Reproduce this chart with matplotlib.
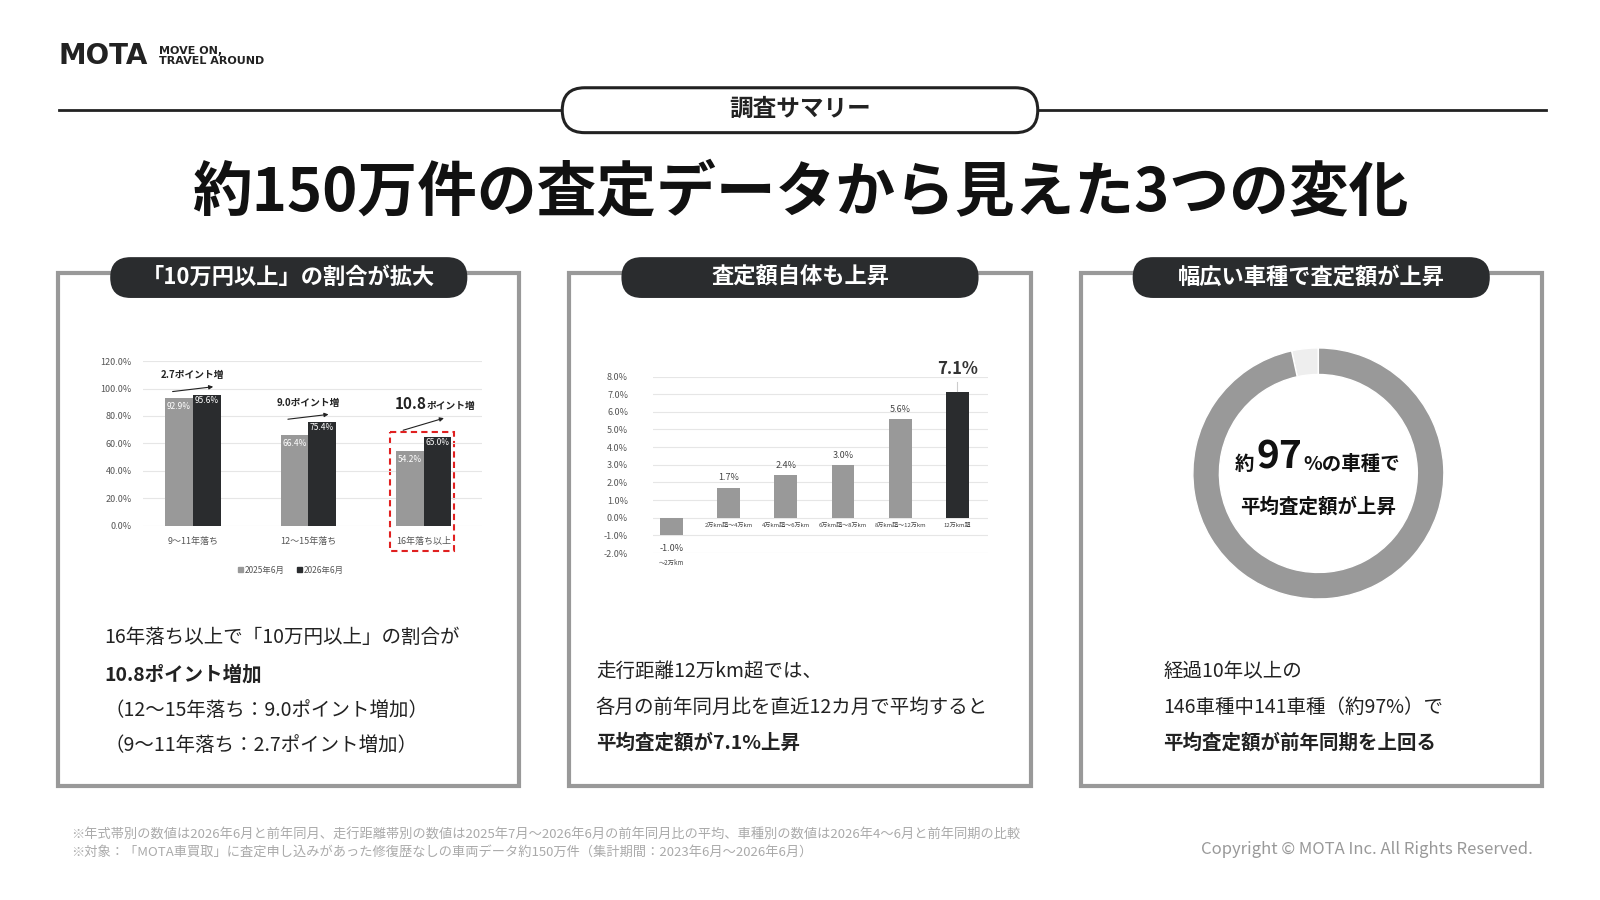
import matplotlib
matplotlib.use("Agg")
import matplotlib.pyplot as plt
from matplotlib.patches import FancyBboxPatch, Rectangle
import numpy as np

plt.rcParams['font.family'] = ['Noto Sans CJK JP', 'DejaVu Sans']

# data
age_cats = ["9～11年落ち", "12～15年落ち", "16年落ち以上"]
v2025 = [92.9, 66.4, 54.2]
v2026 = [95.6, 75.4, 65.0]
diffs = ["2.7", "9.0", "10.8"]
km_cats = ["～2万km", "2万km超～4万km", "4万km超～6万km", "6万km超～8万km", "8万km超～12万km", "12万km超"]
km_vals = [-1.0, 1.7, 2.4, 3.0, 5.6, 7.1]
donut_vals = [5, 141]
donut_labels = ["5車種", "141車種"]

W, H = 1568, 882
fig = plt.figure(figsize=(16, 9), dpi=100)
fig.patch.set_facecolor("white")
bg = fig.add_axes([0, 0, 1, 1])
bg.set_xlim(0, W); bg.set_ylim(H, 0); bg.axis("off")

DARK = "#2a2c2e"; GRAY = "#999999"

def ax_px(x0, y0, x1, y1):
    a = fig.add_axes([x0 / W, 1 - y1 / H, (x1 - x0) / W, (y1 - y0) / H])
    a.patch.set_alpha(0)
    return a

# logo
bg.text(57, 55, "MOTA", fontsize=20, fontweight="bold", color="#222", va="center", family="DejaVu Sans")
bg.text(156, 55, "MOVE ON,\nTRAVEL AROUND", fontsize=8, fontweight="bold", color="#222", va="center", linespacing=1.0, family="DejaVu Sans")

# header line and pill
bg.plot([58, 1515], [108, 108], color="#222", lw=2, zorder=1)
bg.add_patch(FancyBboxPatch((551, 86), 466, 44, boxstyle="round,pad=0,rounding_size=22",
                            fc="white", ec="#222", lw=2.2, zorder=3))
bg.text(784, 107, "調査サマリー", fontsize=17, fontweight="bold", ha="center", va="center", color="#222", zorder=4)
bg.text(784, 190, "約150万件の査定データから見えた3つの変化", fontsize=43, fontweight="bold",
        ha="center", va="center", color="#111")

heads = ["「10万円以上」の割合が拡大", "査定額自体も上昇", "幅広い車種で査定額が上昇"]
for i, x0 in enumerate([57, 558, 1059]):
    bg.add_patch(Rectangle((x0, 268), 452, 502, fc="white", ec="#999", lw=3))
    cx = x0 + 226
    bg.add_patch(FancyBboxPatch((cx - 175, 252), 350, 40, boxstyle="round,pad=0,rounding_size=20",
                                fc=DARK, ec="none"))
    bg.text(cx, 272, heads[i], fontsize=16, fontweight="bold", color="white", ha="center", va="center")

# left chart
ax = ax_px(140, 354, 472, 515)
x = np.arange(3)
w = 0.24
ax.bar(x - w / 2, v2025, w, color=GRAY, label="2025年6月")
ax.bar(x + w / 2, v2026, w, color=DARK, label="2026年6月")
for i in range(3):
    ax.text(x[i] - w / 2, v2025[i] - 8, f"{v2025[i]:.1f}%", color="white", fontsize=6, ha="center")
    ax.text(x[i] + w / 2, v2026[i] - 6, f"{v2026[i]:.1f}%", color="white", fontsize=6, ha="center")
    top = max(v2025[i], v2026[i])
    ax.annotate("", xy=(x[i] + 0.2, top + 14 if i == 2 else top + 6),
                xytext=(x[i] - 0.2, top + 2 if i < 2 else top + 4),
                arrowprops=dict(arrowstyle="-|>", color="#222", lw=0.8, mutation_scale=6))
    if i < 2:
        ax.text(x[i], top + 12, f"{diffs[i]}ポイント増", fontsize=7, fontweight="bold", ha="center", color="#222")
    else:
        ax.text(x[i] + 0.03, top + 20, "10.8", fontsize=11, fontweight="bold", ha="right", color="#222")
        ax.text(x[i] + 0.03, top + 20, "ポイント増", fontsize=7, fontweight="bold", ha="left", color="#222")
ax.set_ylim(0, 120); ax.set_xlim(-0.434, 2.504)
ax.set_yticks(np.arange(0, 121, 20))
ax.set_yticklabels([f"{v:.1f}%" for v in np.arange(0, 121, 20)], fontsize=6.5, color="#555")
ax.set_xticks(x); ax.set_xticklabels(age_cats, fontsize=6.5, color="#555")
ax.grid(axis="y", color="#e6e6e6", lw=0.8); ax.set_axisbelow(True)
for s in ax.spines.values(): s.set_visible(False)
ax.tick_params(length=0, pad=8)
bg.add_patch(Rectangle((382, 423), 63, 117, fill=False, ec="#e02020", lw=1.5, ls=(0, (3, 2)), zorder=5))
bg.add_patch(Rectangle((233, 556), 5, 5, color=GRAY)); bg.text(240, 559, "2025年6月", fontsize=6, va="center", color="#555")
bg.add_patch(Rectangle((291, 556), 5, 5, color=DARK)); bg.text(298, 559, "2026年6月", fontsize=6, va="center", color="#555")

# middle chart
ax2 = ax_px(640, 369, 968, 542)
xs = np.arange(6)
ax2.bar(xs, km_vals, 0.4, color=[GRAY] * 5 + [DARK])
for i, v in enumerate(km_vals):
    if i == 0:
        ax2.text(i, v - 0.5, f"{v:.1f}%", fontsize=6.5, ha="center", va="top", color="#444")
        ax2.text(i, -2.35, km_cats[i], fontsize=4.5, ha="center", va="top", color="#444")
    elif i == 5:
        ax2.text(i, v + 0.8, f"{v:.1f}%", fontsize=12, fontweight="bold", ha="center", va="bottom", color="#333")
        ax2.plot([i, i], [v + 0.1, v + 0.6], color="#ccc", lw=0.8)
        ax2.text(i, -0.3, km_cats[i], fontsize=4.3, ha="center", va="top", color="#444")
    else:
        ax2.text(i, v + 0.3, f"{v:.1f}%", fontsize=6.5, ha="center", va="bottom", color="#444")
        ax2.text(i, -0.3, km_cats[i], fontsize=4.3, ha="center", va="top", color="#444")
ax2.set_ylim(-2, 8); ax2.set_xlim(-0.32, 5.53)
ax2.set_yticks(np.arange(-2, 8.1, 1))
ax2.set_yticklabels([f"{v:.1f}%" for v in np.arange(-2, 8.1, 1)], fontsize=6.5, color="#555")
ax2.set_xticks([])
ax2.grid(axis="y", color="#e6e6e6", lw=0.8); ax2.set_axisbelow(True)
for s in ax2.spines.values(): s.set_visible(False)
ax2.tick_params(length=0, pad=18)

# donut
ax3 = ax_px(1292 - 130, 464 - 130, 1292 + 130, 464 + 130)
ax3.pie(donut_vals, colors=["#eeeeee", GRAY], startangle=90, counterclock=True,
        radius=123 / 130, wedgeprops=dict(width=26 / 130, edgecolor="white", linewidth=1))
ax3.set_xlim(-1, 1); ax3.set_ylim(-1, 1); ax3.set_aspect("equal")
bg.text(1280, 356, donut_labels[0], fontsize=6, fontweight="bold", ha="center", va="center", color="#333")
bg.text(1292, 576, donut_labels[1], fontsize=8, fontweight="bold", ha="center", va="center", color="white")
bg.text(1220, 455, "約", fontsize=14, fontweight="bold", ha="center", va="center", color="#111")
bg.text(1254, 448, "97", fontsize=28, fontweight="bold", ha="center", va="center", color="#111")
bg.text(1277, 455, "%の車種で", fontsize=14, fontweight="bold", ha="left", va="center", color="#111")
bg.text(1292, 497, "平均査定額が上昇", fontsize=14, fontweight="bold", ha="center", va="center", color="#111")

# texts under charts
t = dict(fontsize=14, color="#222", va="center")
bg.text(102, 625, "16年落ち以上で「10万円以上」の割合が", **t)
bg.text(102, 661, "10.8ポイント増加", fontweight="bold", **t)
bg.text(102, 696, "（12～15年落ち：9.0ポイント増加）", **t)
bg.text(102, 731, "（9～11年落ち：2.7ポイント増加）", **t)
bg.text(584, 658, "走行距離12万km超では、", **t)
bg.text(584, 693, "各月の前年同月比を直近12カ月で平均すると", **t)
bg.text(584, 728, "平均査定額が7.1%上昇", fontweight="bold", **t)
bg.text(1140, 658, "経過10年以上の", **t)
bg.text(1140, 693, "146車種中141車種（約97%）で", **t)
bg.text(1140, 728, "平均査定額が前年同期を上回る", fontweight="bold", **t)

# footnotes
bg.text(70, 819, "※年式帯別の数値は2026年6月と前年同月、走行距離帯別の数値は2025年7月～2026年6月の前年同月比の平均、車種別の数値は2026年4～6月と前年同期の比較",
        fontsize=9.5, color="#aaa", va="center")
bg.text(70, 835, "※対象：「MOTA車買取」に査定申し込みがあった修復歴なしの車両データ約150万件（集計期間：2023年6月～2026年6月）",
        fontsize=9.5, color="#aaa", va="center")
bg.text(1502, 833, "Copyright © MOTA Inc. All Rights Reserved.", fontsize=12, color="#999", ha="right", va="center")

fig.savefig("out.png", dpi=100)
